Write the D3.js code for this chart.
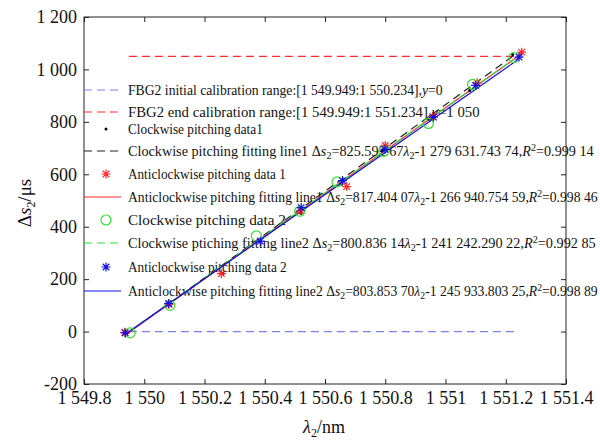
<!DOCTYPE html>
<html>
<head>
<meta charset="utf-8">
<script src="https://cdn.jsdelivr.net/npm/d3@7"></script>
<style>
  body { margin: 0; background: #fff; }
</style>
</head>
<body>
<svg id="chart" width="600" height="441"></svg>
<script>
/*** DATA ***/
const xTicks = [1549.8, 1550, 1550.2, 1550.4, 1550.6, 1550.8, 1551, 1551.2, 1551.4];
const yTicks = [-200, 0, 200, 400, 600, 800, 1000, 1200];

// calibration ranges (dashed horizontals)
const initRange = [[1549.949, 0], [1551.234, 0]];
const endRange = [[1549.949, 1050], [1551.234, 1050]];

// clockwise pitching data1 (black dots)
const cw1Lambda = [1549.942, 1550.082, 1550.262, 1550.52, 1550.655, 1550.79, 1550.945, 1551.08, 1551.223];
const cw1Value = [-5, 105, 222, 450, 562, 690, 810, 920, 1057];
// anticlockwise pitching data 1 (red stars)
const acw1Lambda = [1549.935, 1550.082, 1550.256, 1550.52, 1550.672, 1550.8, 1550.957, 1551.105, 1551.253];
const acw1Value = [-3, 103, 221, 462, 553, 710, 820, 949, 1066];
// clockwise pitching data 2 (green circles)
const cw2Lambda = [1549.953, 1550.085, 1550.372, 1550.516, 1550.64, 1550.795, 1550.943, 1551.09, 1551.227];
const cw2Value = [-5, 100, 365, 459, 571, 688, 794, 943, 1045];
// anticlockwise pitching data 2 (blue stars)
const acw2Lambda = [1549.937, 1550.081, 1550.385, 1550.521, 1550.658, 1550.799, 1550.96, 1551.1, 1551.244];
const acw2Value = [-5, 107, 345, 473, 576, 695, 818, 939, 1047];

// fitting lines, end points
const fit1 = [[1549.94, -10], [1551.223, 1050]];
const fit2 = [[1549.935, -15], [1551.253, 1060]];
const fit3 = [[1549.953, 3], [1551.227, 1039]];
const fit4 = [[1549.937, -10], [1551.244, 1040]];

// legend texts: {x} italic, _x subscript, ^x superscript
const legendLabels = [
  'FBG2 initial calibration range:[1 549.949:1 550.234],{y}=0',
  'FBG2 end calibration range:[1 549.949:1 551.234],{y}=1 050',
  'Clockwise pitching data1',
  'Clockwise pitching fitting line1 Δ{s}_2=825.592 67{λ}_2-1 279 631.743 74,{R}^2=0.999 14',
  'Anticlockwise pitching data 1',
  'Anticlockwise pitching fitting line1 Δ{s}_2=817.404 07{λ}_2-1 266 940.754 59,{R}^2=0.998 46',
  'Clockwise pitching data 2',
  'Clockwise ptiching fitting line2 Δ{s}_2=800.836 14{λ}_2-1 241 242.290 22,{R}^2=0.992 85',
  'Anticlockwise pitching data 2',
  'Anticlockwise pitching fitting line2 Δ{s}_2=803.853 70{λ}_2-1 245 933.803 25,{R}^2=0.998 89'
];

/*** STYLE ***/
const serif = 'Liberation Serif';
const lightBlue = '#7f7fe8', red = '#ff2a2a', green = '#2fe02f', blue = '#1010e6';

const margin = {top: 17, right: 34, bottom: 57, left: 84};
const width = 600, height = 441;

const svg = d3.select('#chart');

const x = d3.scaleLinear().domain([1549.8, 1551.4]).range([margin.left, width - margin.right]);
const y = d3.scaleLinear().domain([-200, 1200]).range([height - margin.bottom, margin.top]);

// tick numbers with space as thousands separator
const fmt = v => d3.format(',')(v).replace(/,/g, ' ').replace('−', '-');

/*** AXES ***/
const axB = svg.append('g').attr('transform', `translate(0,${y.range()[0]})`)
  .call(d3.axisBottom(x).tickValues(xTicks).tickFormat(fmt).tickSizeInner(-5).tickSizeOuter(0).tickPadding(7));
const axT = svg.append('g').attr('transform', `translate(0,${y.range()[1]})`)
  .call(d3.axisTop(x).tickValues(xTicks).tickFormat('').tickSizeInner(-5).tickSizeOuter(0));
const axL = svg.append('g').attr('transform', `translate(${x.range()[0]},0)`)
  .call(d3.axisLeft(y).tickValues(yTicks).tickFormat(fmt).tickSizeInner(-5).tickSizeOuter(0).tickPadding(7));
const axR = svg.append('g').attr('transform', `translate(${x.range()[1]},0)`)
  .call(d3.axisRight(y).tickValues(yTicks).tickFormat('').tickSizeInner(-5).tickSizeOuter(0));

[axB, axT, axL, axR].forEach(g => {
  g.attr('font-size', 18);
  g.select('.domain').remove();
  g.selectAll('.tick line').attr('stroke', '#222');
  g.selectAll('.tick text').attr('fill', '#111');
});

svg.append('rect')
  .attr('x', x.range()[0]).attr('y', y.range()[1])
  .attr('width', x.range()[1] - x.range()[0])
  .attr('height', y.range()[0] - y.range()[1])
  .attr('fill', 'none').attr('stroke', '#222').attr('stroke-width', 1);

// axis titles
const yTitle = svg.append('text')
  .attr('transform', 'translate(31,203) rotate(-90)')
  .attr('text-anchor', 'middle').attr('font-size', 19).attr('fill', '#111');
yTitle.append('tspan').text('Δ');
yTitle.append('tspan').attr('font-style', 'italic').text('s');
yTitle.append('tspan').attr('font-size', 12).attr('dy', 4).text('2');
yTitle.append('tspan').attr('dy', -4).text('/μs');

const xTitle = svg.append('text')
  .attr('x', 324).attr('y', 433)
  .attr('text-anchor', 'middle').attr('font-size', 18).attr('fill', '#111');
xTitle.append('tspan').attr('font-style', 'italic').text('λ');
xTitle.append('tspan').attr('font-size', 12).attr('dy', 4).text('2');
xTitle.append('tspan').attr('dy', -4).text('/nm');

/*** LEGEND ***/
function richText(sel, str) {
  const re = /\{([^}]*)\}|_(.)|\^(.)|([^{_^]+)/g;
  let m, shift = 0;
  while ((m = re.exec(str)) !== null) {
    if (m[1] !== undefined) {
      sel.append('tspan').attr('font-style', 'italic').attr('dy', -shift).text(m[1]); shift = 0;
    } else if (m[2] !== undefined) {
      sel.append('tspan').attr('font-size', 10).attr('dy', 3 - shift).text(m[2]); shift = 3;
    } else if (m[3] !== undefined) {
      sel.append('tspan').attr('font-size', 10).attr('dy', -5 - shift).text(m[3]); shift = -5;
    } else {
      sel.append('tspan').attr('dy', -shift).text(m[4]); shift = 0;
    }
  }
}

// legend layout (rows, widths of the texts as they appear)
const legendY = [90, 112, 129, 151, 174, 197, 220, 243, 267, 291];
const legendTextWidth = [315, 352, 135, 466, 158, 470, 158, 468, 159, 470];
const legendSym = [
  {type: 'line', color: lightBlue, dash: '8,5'},
  {type: 'line', color: red, dash: '8,5'},
  {type: 'dot', color: '#000'},
  {type: 'line', color: '#222', dash: '8,5'},
  {type: 'star', color: red},
  {type: 'line', color: red},
  {type: 'circle', color: green},
  {type: 'line', color: green, dash: '8,5'},
  {type: 'star', color: blue},
  {type: 'line', color: blue}
];

const leg = svg.append('g').attr('class', 'legend');

// marker drawing helpers
function star(g, cx, cy, color) {
  const r = 4.5, d = r * 0.72;
  g.append('path')
    .attr('d', `M${cx - r},${cy}H${cx + r}M${cx},${cy - r}V${cy + r}` +
      `M${cx - d},${cy - d}L${cx + d},${cy + d}M${cx - d},${cy + d}L${cx + d},${cy - d}`)
    .attr('stroke', color).attr('stroke-width', 1.2).attr('fill', 'none');
}
function ring(g, cx, cy, color) {
  g.append('circle').attr('cx', cx).attr('cy', cy).attr('r', 5)
    .attr('fill', 'none').attr('stroke', color).attr('stroke-width', 1.2);
}
function dot(g, cx, cy, color) {
  g.append('circle').attr('cx', cx).attr('cy', cy).attr('r', 1.5).attr('fill', color);
}

legendLabels.forEach((lab, i) => {
  const yy = legendY[i], s = legendSym[i];
  if (s.type === 'line') {
    leg.append('line').attr('x1', 84).attr('x2', 121).attr('y1', yy).attr('y2', yy)
      .attr('stroke', s.color).attr('stroke-width', 1.2).attr('stroke-dasharray', s.dash || null);
  } else if (s.type === 'star') star(leg, 106, yy, s.color);
  else if (s.type === 'circle') ring(leg, 106, yy, s.color);
  else dot(leg, 106, yy, s.color);
  const t = leg.append('text').attr('x', 0).attr('y', 0)
    .attr('font-size', 14).attr('fill', '#111')
    .style('font-family', serif);
  richText(t, lab);
  // squeeze/stretch horizontally to the width seen in the picture
  const w0 = t.node().getComputedTextLength();
  const k = legendTextWidth[i] / w0;
  t.attr('transform', `translate(128,${yy + 5}) scale(${k},1)`);
});

/*** DATA MARKS ***/
const line = d3.line().x(d => x(d[0])).y(d => y(d[1]));
const plot = svg.append('g').attr('class', 'plot');

plot.append('path').datum(initRange).attr('d', line)
  .attr('stroke', lightBlue).attr('stroke-width', 1.2).attr('stroke-dasharray', '8,5').attr('fill', 'none');
plot.append('path').datum(endRange).attr('d', line)
  .attr('stroke', red).attr('stroke-width', 1.2).attr('stroke-dasharray', '8,5').attr('fill', 'none');

plot.append('path').datum(fit1).attr('d', line)
  .attr('stroke', '#222').attr('stroke-width', 1.2).attr('stroke-dasharray', '8,5').attr('fill', 'none');
plot.append('path').datum(fit2).attr('d', line)
  .attr('stroke', red).attr('stroke-width', 1.2).attr('fill', 'none');
plot.append('path').datum(fit3).attr('d', line)
  .attr('stroke', green).attr('stroke-width', 1.2).attr('stroke-dasharray', '8,5').attr('fill', 'none');
plot.append('path').datum(fit4).attr('d', line)
  .attr('stroke', blue).attr('stroke-width', 1.2).attr('fill', 'none');

cw1Lambda.forEach((l, i) => dot(plot, x(l), y(cw1Value[i]), '#000'));
acw1Lambda.forEach((l, i) => star(plot, x(l), y(acw1Value[i]), red));
cw2Lambda.forEach((l, i) => ring(plot, x(l), y(cw2Value[i]), green));
acw2Lambda.forEach((l, i) => star(plot, x(l), y(acw2Value[i]), blue));

// serif font on every text (set as style so it wins over the axis defaults)
svg.selectAll('text').style('font-family', serif);
</script>
</body>
</html>
